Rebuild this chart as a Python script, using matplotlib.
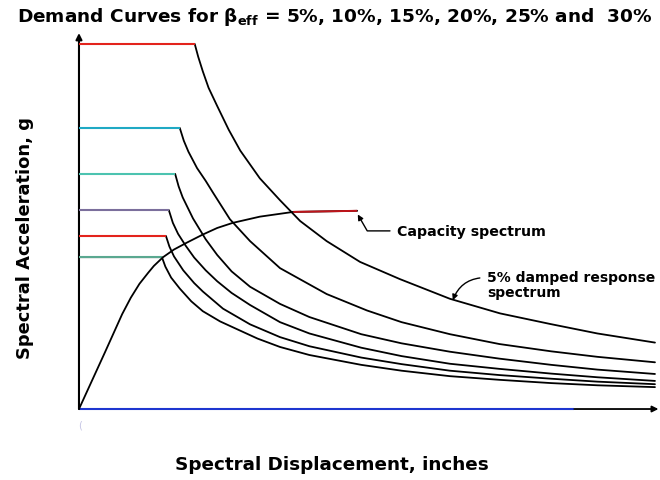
import matplotlib
matplotlib.use("Agg")
import matplotlib.pyplot as plt

plt.rcParams["font.family"] = ["DejaVu Sans"]
plt.rcParams["mathtext.fontset"] = "dejavusans"

# Demand curves (ADRS format): spectral displacement (in) vs spectral acceleration (g)
sd_5 = [0, 2.01, 2.07, 2.15, 2.25, 2.4, 2.6, 2.8, 3.14, 3.49, 3.84, 4.3, 4.88, 5.57, 6.44, 7.31, 8.18, 9.0, 10.0]
sa_5 = [1.0, 1.0, 0.965, 0.925, 0.88, 0.83, 0.765, 0.708, 0.632, 0.572, 0.515, 0.46, 0.403, 0.356, 0.302, 0.262, 0.233, 0.207, 0.182]

sd_10 = [0, 1.75, 1.82, 1.9, 2.05, 2.2, 2.33, 2.62, 2.97, 3.49, 4.3, 5.0, 5.6, 6.44, 7.3, 8.2, 9.0, 10.0]
sa_10 = [0.77, 0.77, 0.735, 0.705, 0.66, 0.625, 0.592, 0.52, 0.46, 0.386, 0.315, 0.27, 0.238, 0.205, 0.178, 0.158, 0.143, 0.128]

sd_15 = [0, 1.67, 1.73, 1.8, 1.98, 2.2, 2.4, 2.65, 2.97, 3.49, 4.0, 4.9, 5.6, 6.44, 7.3, 8.2, 9.0, 10.0]
sa_15 = [0.644, 0.644, 0.61, 0.58, 0.522, 0.465, 0.422, 0.377, 0.335, 0.288, 0.252, 0.205, 0.18, 0.157, 0.138, 0.121, 0.108, 0.096]

sd_20 = [0, 1.56, 1.63, 1.72, 1.85, 2.0, 2.2, 2.4, 2.65, 2.97, 3.49, 4.0, 4.9, 5.6, 6.44, 7.3, 8.2, 9.0, 10.0]
sa_20 = [0.545, 0.545, 0.51, 0.48, 0.448, 0.415, 0.38, 0.35, 0.318, 0.285, 0.238, 0.207, 0.168, 0.145, 0.124, 0.11, 0.097, 0.087, 0.077]

sd_25 = [0, 1.51, 1.57, 1.65, 1.81, 2.0, 2.15, 2.5, 2.97, 3.49, 4.0, 4.9, 5.6, 6.44, 7.3, 8.2, 9.0, 10.0]
sa_25 = [0.474, 0.474, 0.445, 0.418, 0.38, 0.345, 0.322, 0.275, 0.232, 0.197, 0.172, 0.141, 0.123, 0.105, 0.093, 0.083, 0.075, 0.068]

sd_30 = [0, 1.44, 1.5, 1.6, 1.75, 1.95, 2.15, 2.45, 2.74, 3.1, 3.49, 4.0, 4.9, 5.6, 6.44, 7.3, 8.2, 9.0, 10.0]
sa_30 = [0.416, 0.416, 0.39, 0.36, 0.33, 0.295, 0.268, 0.24, 0.219, 0.193, 0.17, 0.148, 0.121, 0.105, 0.09, 0.08, 0.071, 0.065, 0.06]

# Capacity spectrum of the structure
cap_sd = [0, 0.45, 0.75, 0.9, 1.05, 1.2, 1.3, 1.46, 1.65, 1.875, 2.15, 2.4, 2.67, 3.14, 3.72, 4.83]
cap_sa = [0, 0.155, 0.26, 0.305, 0.343, 0.373, 0.392, 0.416, 0.437, 0.456, 0.478, 0.496, 0.51, 0.527, 0.54, 0.543]

curves = [(sd_5, sa_5), (sd_10, sa_10), (sd_15, sa_15),
          (sd_20, sa_20), (sd_25, sa_25), (sd_30, sa_30)]
plateau_colors = ["#e3231c", "#1fa9c4", "#4cc3b0", "#7b6f9c", "#e3231c", "#5aa890"]

fig = plt.figure(figsize=(6.6, 4.81), dpi=100)
ax = fig.add_axes([0.1153, 0.1248, 0.8858, 0.812])
ax.set_xlim(-0.05, 10.1)
ax.set_ylim(-0.03, 1.04)
ax.axis("off")

line_kw = dict(color="black", lw=1.3, solid_joinstyle="round", solid_capstyle="round")

for (sd, sa), pc in zip(curves, plateau_colors):
    ax.plot(sd, sa, **line_kw, zorder=3)
    # constant-acceleration plateau drawn in the curve's colour
    ax.plot(sd[:2], sa[:2], color=pc, lw=1.5, zorder=4, solid_capstyle="butt")

ax.plot(cap_sd, cap_sa, **line_kw, zorder=5)
ax.plot(cap_sd[-2:], cap_sa[-2:], color="#c0141a", lw=1.4, zorder=6, solid_capstyle="butt")

# axes drawn as arrows
ax.plot([0, 8.6], [0, 0], color="#1e36d0", lw=1.5, zorder=2, solid_capstyle="butt")
ax.annotate("", xy=(10.06, 0), xytext=(8.6, 0),
            arrowprops=dict(arrowstyle="-|>", color="black", lw=1.3,
                            mutation_scale=9, shrinkA=0, shrinkB=0))
ax.annotate("", xy=(0, 1.03), xytext=(0, 0),
            arrowprops=dict(arrowstyle="-|>", color="black", lw=1.5,
                            mutation_scale=9, shrinkA=0, shrinkB=0))

# callouts
ax.annotate("Capacity spectrum", xy=(cap_sd[-1] + 0.01, cap_sa[-1] - 0.01),
            xytext=(5.52, 0.488), fontsize=10.2, fontweight="bold", va="center", ha="left",
            arrowprops=dict(arrowstyle="-|>", color="black", lw=1.0, mutation_scale=8,
                            shrinkA=3, shrinkB=0,
                            connectionstyle="angle,angleA=0,angleB=-60,rad=0"))
ax.annotate("5% damped response\nspectrum", xy=(6.49, 0.298),
            xytext=(7.08, 0.34), fontsize=10.0, fontweight="bold", va="center", ha="left",
            linespacing=1.1,
            arrowprops=dict(arrowstyle="-|>", color="black", lw=1.0, mutation_scale=8,
                            shrinkA=3, shrinkB=0,
                            connectionstyle="arc3,rad=0.35",
                            relpos=(0, 0.75)))

fig.text(0.507, 0.964,
         r"Demand Curves for β$_{\mathbf{eff}}$ = 5%, 10%, 15%, 20%, 25% and  30%",
         ha="center", va="center", fontsize=13.3, fontweight="bold")
fig.text(0.503, 0.033, "Spectral Displacement, inches",
         ha="center", va="center", fontsize=13.2, fontweight="bold")
fig.text(0.038, 0.505, "Spectral Acceleration, g", rotation=90,
         ha="center", va="center", fontsize=12.9, fontweight="bold")
fig.text(0.121, 0.116, "(", ha="center", va="center", fontsize=7, color="#c4c4e4")

fig.savefig("out.png", dpi=100)
